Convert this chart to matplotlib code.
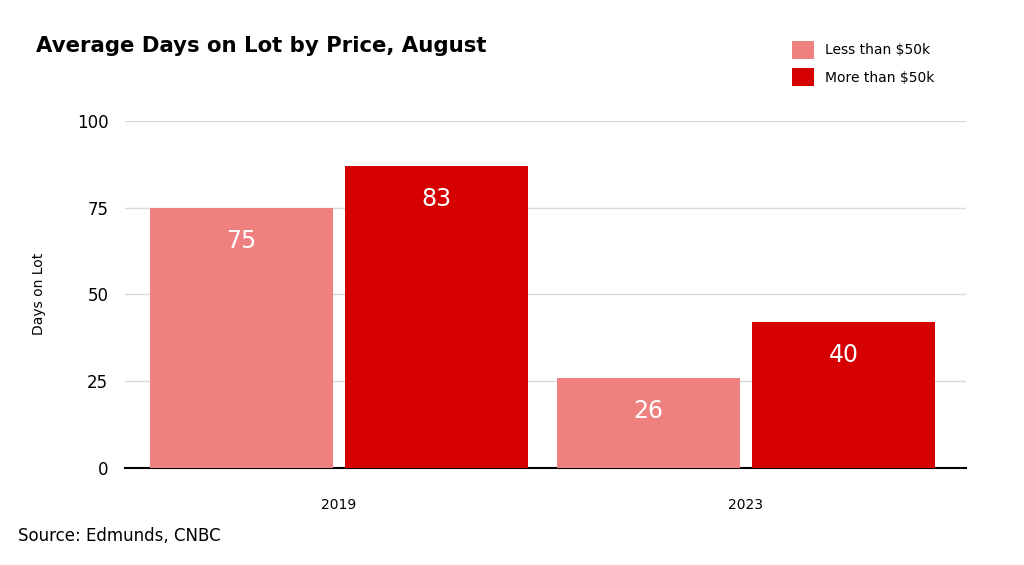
import numpy as np
import matplotlib.pyplot as plt

years = ['2019', '2023']
less_50k = [75, 26]
more_50k = [87, 42]
less_labels = ['75', '26']
more_labels = ['83', '40']

fig = plt.figure(figsize=(10.24, 5.65), dpi=100)
ax = fig.add_axes([0.122, 0.172, 0.821, 0.614])

x = np.arange(len(years))
w = 0.45
off = 0.24
pink = '#EE8080'
red = '#D60000'
b1 = ax.bar(x - off, less_50k, w, color=pink, label='Less than $50k', zorder=3)
b2 = ax.bar(x + off, more_50k, w, color=red, label='More than $50k', zorder=3)

for bars, labs in ((b1, less_labels), (b2, more_labels)):
    for b, t in zip(bars, labs):
        ax.text(b.get_x() + b.get_width() / 2, b.get_height() - 9.5, t,
                ha='center', va='center', color='white', fontsize=17, zorder=4)

ax.set_xlim(-0.526, 1.54)
ax.set_ylim(0, 100)
ax.set_yticks([0, 25, 50, 75, 100])
ax.set_xticks(x)
ax.set_xticklabels(years)
ax.tick_params(axis='both', length=0, labelsize=10)
ax.tick_params(axis='y', labelsize=12, pad=12)
ax.tick_params(axis='x', pad=22)
ax.grid(axis='y', color='#d9d9d9', lw=1, zorder=0)
for s in ['top', 'right', 'left']:
    ax.spines[s].set_visible(False)
ax.spines['bottom'].set_color('black')
ax.spines['bottom'].set_linewidth(1.5)
ax.set_ylabel('Days on Lot', fontsize=10, labelpad=22)

fig.text(0.035, 0.918, 'Average Days on Lot by Price, August', fontsize=15.3,
         fontweight='bold', va='center')
fig.text(0.018, 0.051, 'Source: Edmunds, CNBC', fontsize=12, va='center')
fig.legend(loc='upper left', bbox_to_anchor=(0.761, 0.95), frameon=False,
           fontsize=10, handlelength=1.6, handleheight=1.6, labelspacing=0.7)

fig.savefig('out.png', dpi=100)
